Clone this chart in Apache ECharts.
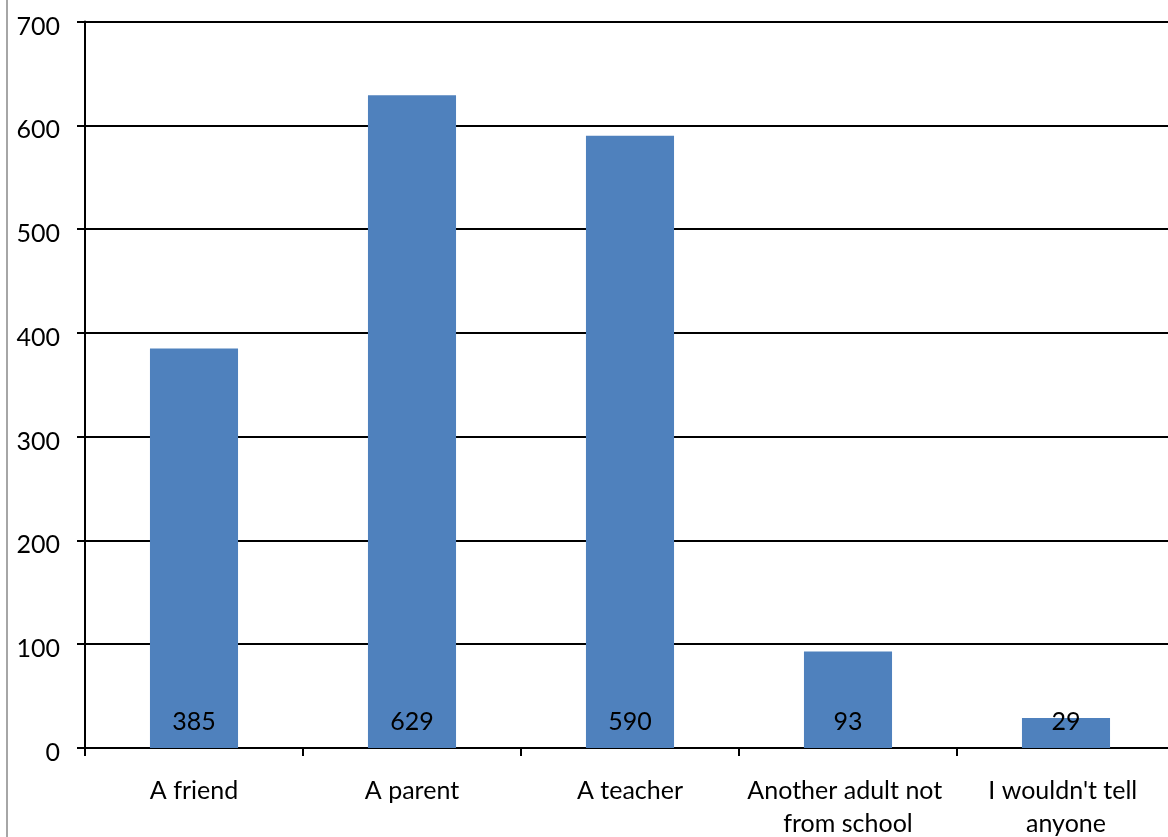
<!DOCTYPE html>
<html>
<head>
<meta charset="utf-8">
<script src="https://cdn.jsdelivr.net/npm/echarts@6/dist/echarts.min.js"></script>
<style>
html,body{margin:0;padding:0;background:#fff;overflow:hidden;width:1168px;height:837px;}
#c{width:1175px;height:837px;}
</style>
</head>
<body>
<div id="c"></div>
<script>
const categories = ["A friend", "A parent", "A teacher", "Another adult not from school", "I wouldn't tell anyone"];
const values = [385, 629, 590, 93, 29];
const yTicks = [0, 100, 200, 300, 400, 500, 600, 700];

const FONT = 'Lato';
const chart = echarts.init(document.getElementById('c'), null, {renderer: 'canvas'});
chart.setOption({
  animation: false,
  backgroundColor: '#fff',
  textStyle: {fontFamily: FONT},
  grid: {left: 85, right: 0, top: 21.5, bottom: 89, containLabel: false, outerBoundsMode: 'none'},
  xAxis: {
    type: 'category',
    data: categories,
    axisLine: {show: true, lineStyle: {color: '#000', width: 2}},
    axisTick: {show: true, length: 8, alignWithLabel: false, lineStyle: {color: '#000', width: 2}},
    axisLabel: {
      color: '#000', fontFamily: FONT, fontSize: 25, lineHeight: 33, margin: 26,
      width: 210, overflow: 'break', interval: 0
    }
  },
  yAxis: {
    type: 'value',
    min: yTicks[0], max: yTicks[yTicks.length - 1], interval: 100,
    axisLine: {show: true, lineStyle: {color: '#000', width: 2}},
    axisTick: {show: true, length: 8, lineStyle: {color: '#000', width: 2}},
    axisLabel: {
      color: '#000', fontFamily: FONT, fontSize: 25, margin: 25,
      formatter: '{v|{value}}',
      rich: {v: {color: '#000', fontFamily: FONT, fontSize: 25, padding: [10, 0, 0, 0]}}
    },
    splitLine: {show: true, lineStyle: {color: '#000', width: 2}}
  },
  series: [{
    type: 'bar',
    data: values,
    barWidth: '40.4%',
    itemStyle: {color: '#4F81BD'},
    label: {
      show: true, position: 'insideBottom', distance: 14,
      color: '#000', fontFamily: FONT, fontSize: 25
    }
  }],
  graphic: [{
    type: 'rect', shape: {x: 6, y: 0, width: 2, height: 837},
    style: {fill: '#a6a6a6'}, silent: true
  }]
});
</script>
</body>
</html>
